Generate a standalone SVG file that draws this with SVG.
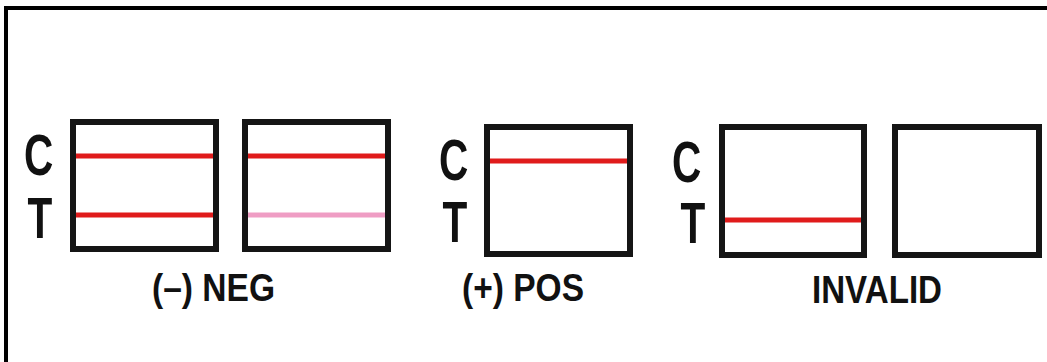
<svg xmlns="http://www.w3.org/2000/svg" width="1047" height="362" viewBox="0 0 1047 362">
<style>
.frame{fill:none;stroke:#000;stroke-width:4}
.strip{fill:#fff;stroke:#151515;stroke-width:6}
.red{stroke:#e01b1b;stroke-width:5}
.pink{stroke:#ef9dc4;stroke-width:5}
.ct{font-family:"Liberation Sans",Arial,sans-serif;font-weight:bold;font-size:58px;fill:#111}
.lbl{font-family:"Liberation Sans",Arial,sans-serif;font-weight:bold;font-size:38px;fill:#111}
</style>
<rect x="0" y="0" width="1047" height="362" fill="#fff"/>
<path class="frame" d="M6,362 V8 H1047"/>
<g id="neg">
  <text class="ct" transform="translate(24,0) scale(0.7,1)"><tspan x="0" y="175">C</tspan><tspan x="5" y="238">T</tspan></text>
  <g id="neg-strip1">
    <rect class="strip" x="73" y="122" width="143" height="127"/>
    <line class="red" x1="76" y1="156" x2="213" y2="156"/>
    <line class="red" x1="76" y1="215" x2="213" y2="215"/>
  </g>
  <g id="neg-strip2">
    <rect class="strip" x="245" y="122" width="143" height="127"/>
    <line class="red" x1="248" y1="156" x2="385" y2="156"/>
    <line class="pink" x1="248" y1="215" x2="385" y2="215"/>
  </g>
  <text class="lbl" x="152" y="301" textLength="123" lengthAdjust="spacingAndGlyphs">(–) NEG</text>
</g>
<g id="pos">
  <text class="ct" transform="translate(439,0) scale(0.7,1)"><tspan x="0" y="180">C</tspan><tspan x="5" y="242">T</tspan></text>
  <g id="pos-strip">
    <rect class="strip" x="487" y="127" width="143" height="127"/>
    <line class="red" x1="490" y1="161" x2="627" y2="161"/>
  </g>
  <text class="lbl" x="462" y="301" textLength="122" lengthAdjust="spacingAndGlyphs">(+) POS</text>
</g>
<g id="invalid">
  <text class="ct" transform="translate(672,0) scale(0.7,1)"><tspan x="0" y="182">C</tspan><tspan x="12" y="243">T</tspan></text>
  <g id="invalid-strip1">
    <rect class="strip" x="722" y="127" width="142" height="128"/>
    <line class="red" x1="725" y1="220" x2="861" y2="220"/>
  </g>
  <g id="invalid-strip2">
    <rect class="strip" x="895" y="127" width="144" height="128"/>
  </g>
  <text class="lbl" x="812" y="303" font-size="42" textLength="130" lengthAdjust="spacingAndGlyphs">INVALID</text>
</g>
</svg>
